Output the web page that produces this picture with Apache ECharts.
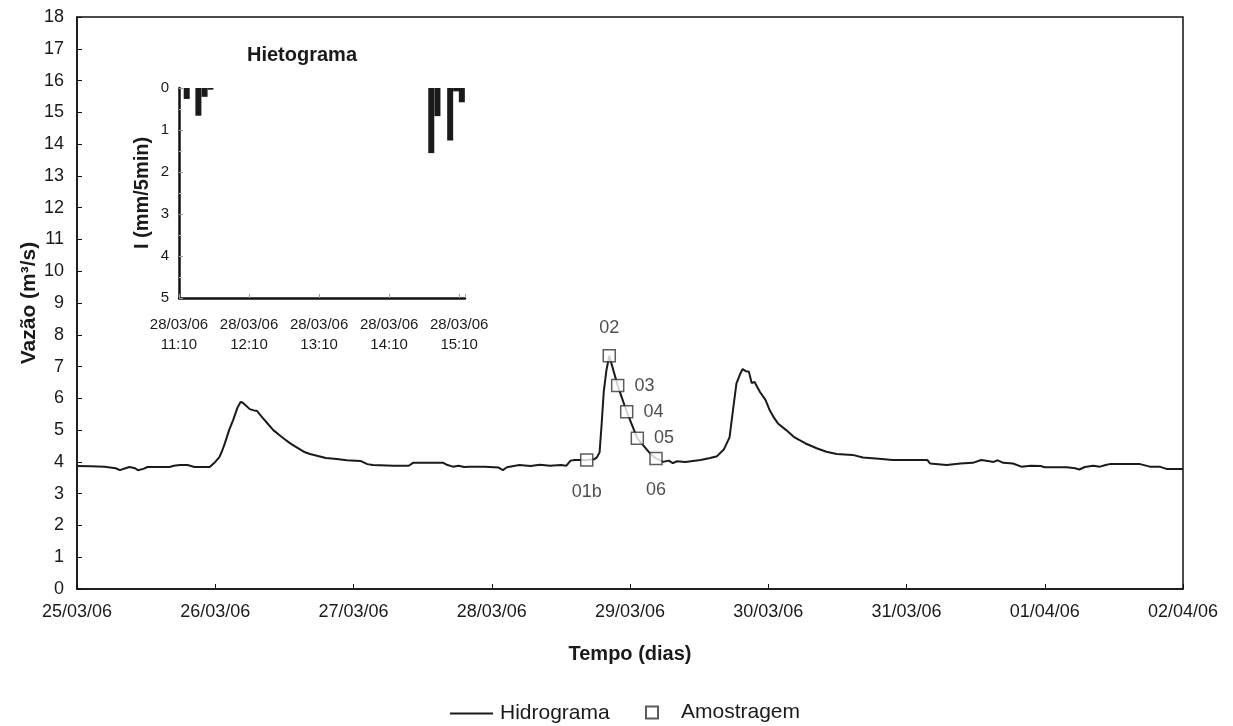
<!DOCTYPE html>
<html><head><meta charset="utf-8">
<script src="https://cdn.jsdelivr.net/npm/echarts@6/dist/echarts.min.js"></script>
<style>html,body{margin:0;padding:0;background:#fff}#c{width:1233px;height:726px}</style>
</head><body><div id="c"></div>
<script>
// ---- data ----
const dateTickLabels = ['25/03/06','26/03/06','27/03/06','28/03/06','29/03/06','30/03/06','31/03/06','01/04/06','02/04/06'];
// hydrograph: days after 25/03/06 00:00, flow m3/s
const hydroDays = [0.00,0.10,0.20,0.28,0.31,0.35,0.38,0.42,0.44,0.48,0.51,0.60,0.67,0.70,0.745,0.80,0.85,0.92,0.96,0.98,1.00,1.03,1.05,1.07,1.10,1.13,1.16,1.184,1.20,1.215,1.25,1.28,1.30,1.34,1.38,1.42,1.47,1.50,1.54,1.58,1.64,1.685,1.75,1.80,1.88,1.95,2.05,2.10,2.14,2.29,2.40,2.43,2.55,2.65,2.68,2.72,2.76,2.80,2.84,2.95,3.05,3.08,3.11,3.20,3.28,3.35,3.42,3.50,3.54,3.57,3.60,3.687,3.74,3.76,3.78,3.795,3.81,3.83,3.85,3.911,3.976,4.053,4.145,4.188,4.24,4.28,4.31,4.34,4.40,4.51,4.58,4.63,4.68,4.72,4.75,4.77,4.80,4.815,4.84,4.86,4.88,4.90,4.94,4.98,5.01,5.04,5.07,5.13,5.19,5.27,5.35,5.42,5.495,5.61,5.685,5.80,5.90,6.05,6.15,6.17,6.29,6.39,6.48,6.54,6.60,6.63,6.66,6.70,6.77,6.83,6.90,6.97,7.00,7.16,7.22,7.25,7.29,7.35,7.40,7.44,7.47,7.69,7.76,7.83,7.88,8.00];
const hydroFlow = [3.87,3.86,3.85,3.80,3.74,3.80,3.84,3.80,3.74,3.78,3.84,3.84,3.84,3.88,3.90,3.90,3.84,3.84,3.84,3.92,4.00,4.15,4.35,4.59,5.00,5.32,5.70,5.89,5.86,5.80,5.66,5.62,5.61,5.40,5.20,5.00,4.82,4.72,4.59,4.48,4.32,4.25,4.18,4.12,4.09,4.05,4.03,3.93,3.90,3.88,3.88,3.97,3.97,3.97,3.90,3.85,3.88,3.84,3.85,3.85,3.82,3.74,3.83,3.90,3.87,3.91,3.88,3.90,3.88,4.04,4.06,4.06,4.08,4.14,4.30,5.20,6.20,6.90,7.34,6.40,5.58,4.74,4.27,4.11,4.00,4.04,3.96,4.02,4.00,4.06,4.12,4.18,4.40,4.77,5.80,6.47,6.80,6.92,6.85,6.84,6.48,6.52,6.20,5.95,5.63,5.40,5.21,5.00,4.77,4.58,4.43,4.32,4.25,4.22,4.14,4.10,4.06,4.06,4.06,3.95,3.90,3.95,3.97,4.06,4.02,4.00,4.05,3.97,3.95,3.85,3.88,3.87,3.83,3.83,3.80,3.76,3.84,3.88,3.85,3.90,3.93,3.93,3.85,3.85,3.78,3.78];
// samples
const sampleNames = ['01b','02','03','04','05','06'];
const sampleDays  = [3.687,3.85,3.911,3.976,4.053,4.188];
const sampleFlow  = [4.06,7.34,6.40,5.58,4.74,4.11];
// hyetograph: minutes after 28/03/06 11:10, intensity mm/5min
const rainTickLabels = ['28/03/06\n11:10','28/03/06\n12:10','28/03/06\n13:10','28/03/06\n14:10','28/03/06\n15:10'];
const rainMinutes   = [6.6,16.6,21.9,26.9,216.1,221.4,232.3,237.4,242.3];
const rainIntensity = [0.26,0.66,0.21,0.04,1.55,0.67,1.25,0.08,0.34];

// ---- chart ----
const FONT = "'Liberation Sans', Arial, sans-serif";
const TXT = '#1a1a1a';
const labelSide = {'01b':'bottom','02':'top','03':'right','04':'right','05':'right','06':'bottom'};
const labelDist = {'bottom':16,'top':12,'right':10};

const chart = echarts.init(document.getElementById('c'), null, {renderer:'canvas'});
chart.setOption({
  animation:false,
  backgroundColor:'#fff',
  textStyle:{fontFamily:FONT},
  title:{text:'Hietograma', left:302, top:45, textAlign:'center', padding:0,
    textStyle:{fontFamily:FONT, fontSize:20, fontWeight:'bold', color:TXT}},
  legend:[
    {data:[{name:'Hidrograma', icon:'path://M0,0 L43,0 L43,2 L0,2 Z'}], left:450, top:703, padding:0, itemWidth:43, itemHeight:2, selectedMode:false,
     textStyle:{fontFamily:FONT, fontSize:21, color:TXT, padding:[0,0,0,2]}},
    {data:['Amostragem'], left:645, top:702, padding:0, itemWidth:12, itemHeight:12, selectedMode:false,
     textStyle:{fontFamily:FONT, fontSize:21, color:TXT, padding:[0,0,0,18]}}
  ],
  grid:[
    {left:77, right:50, top:17, bottom:137, show:true, borderColor:'#111', borderWidth:1.5, backgroundColor:'#fff'},
    {left:179, top:88, width:286, height:210, show:false}
  ],
  xAxis:[
    {type:'value', gridIndex:0, min:0, max:8, interval:1,
     axisLine:{lineStyle:{color:'#111', width:1.5}},
     axisTick:{inside:true, length:5, lineStyle:{color:'#111'}},
     splitLine:{show:false},
     axisLabel:{formatter:v=>dateTickLabels[Math.round(v)], fontSize:18, color:TXT, margin:14, fontFamily:FONT},
     name:'Tempo (dias)', nameLocation:'middle', nameGap:55, nameMoveOverlap:false,
     nameTextStyle:{fontFamily:FONT, fontSize:20, fontWeight:'bold', color:TXT}},
    {type:'value', gridIndex:1, min:0, max:245, interval:60, position:'bottom',
     axisLine:{onZero:false, lineStyle:{color:'#111', width:2.5}},
     axisTick:{inside:true, length:4, lineStyle:{color:'#999'}},
     splitLine:{show:false},
     axisLabel:{formatter:v=>(v%60===0 ? rainTickLabels[v/60] : ''), fontSize:15, lineHeight:20, color:TXT, margin:17, fontFamily:FONT}}
  ],
  yAxis:[
    {type:'value', gridIndex:0, min:0, max:18, interval:1,
     axisLine:{show:true, lineStyle:{color:'#111', width:1.5}},
     axisTick:{inside:true, length:5, lineStyle:{color:'#111'}},
     splitLine:{show:false},
     axisLabel:{fontSize:18, color:TXT, margin:13, fontFamily:FONT},
     name:'Vazão (m³/s)', nameLocation:'middle', nameGap:37, nameMoveOverlap:false,
     nameTextStyle:{fontFamily:FONT, fontSize:21, fontWeight:'bold', color:TXT}},
    {type:'value', gridIndex:1, min:0, max:5, interval:1, inverse:true,
     axisLine:{show:true, lineStyle:{color:'#111', width:2.5}},
     axisTick:{inside:true, length:4, lineStyle:{color:'#999'}},
     minorTick:{show:true, splitNumber:2, length:3, lineStyle:{color:'#bbb'}},
     splitLine:{show:false},
     axisLabel:{fontSize:15, color:TXT, margin:10, fontFamily:FONT},
     name:'I (mm/5min)', nameLocation:'middle', nameGap:27,
     nameTextStyle:{fontFamily:FONT, fontSize:20, fontWeight:'bold', color:TXT}}
  ],
  series:[
    {name:'Hidrograma', type:'line', xAxisIndex:0, yAxisIndex:0, symbol:'none',
     lineStyle:{color:'#1a1a1a', width:2}, itemStyle:{color:'#1a1a1a'},
     data:hydroDays.map((d,i)=>[d, hydroFlow[i]]), z:2},
    {name:'Amostragem', type:'scatter', xAxisIndex:0, yAxisIndex:0, symbol:'rect', symbolSize:12, symbolKeepAspect:true,
     itemStyle:{color:'#fff', borderColor:'#333', borderWidth:1.5},
     data:sampleDays.map((d,i)=>({value:[d, sampleFlow[i]],
       label:{position:labelSide[sampleNames[i]], distance:labelDist[labelSide[sampleNames[i]]]}})),
     label:{show:true, formatter:p=>sampleNames[p.dataIndex], fontSize:18, color:'#222', fontFamily:FONT},
     z:4},
    {name:'Hietograma', type:'bar', xAxisIndex:1, yAxisIndex:1, barWidth:6,
     itemStyle:{color:'#1a1a1a'},
     data:rainMinutes.map((m,i)=>[m, rainIntensity[i]]), z:3}
  ]
});
</script></body></html>
